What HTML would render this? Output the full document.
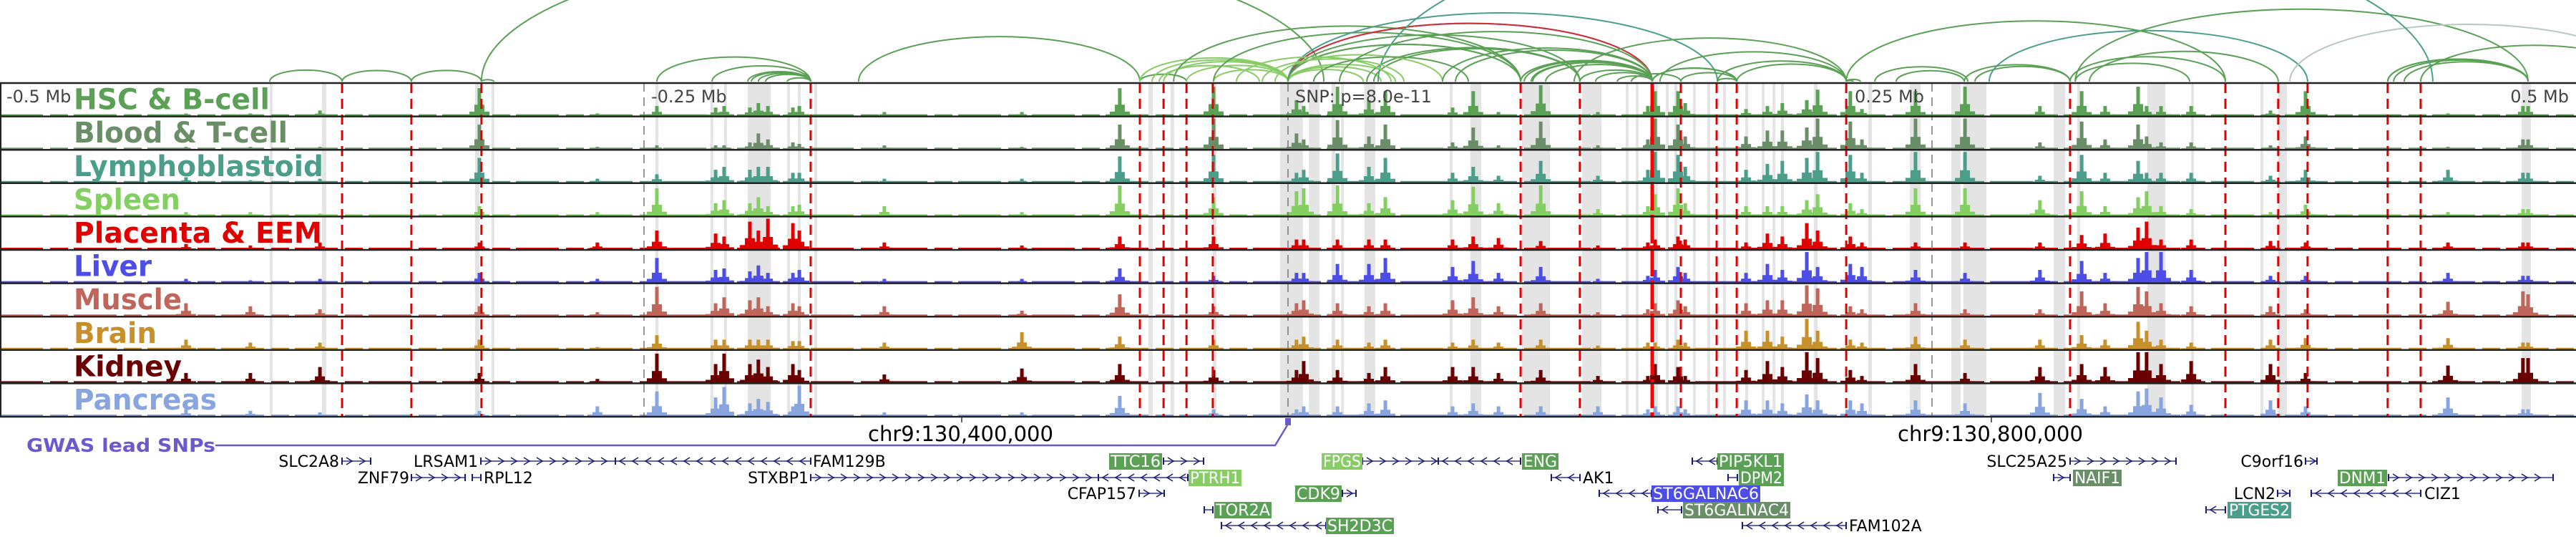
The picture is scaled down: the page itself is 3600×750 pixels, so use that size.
<!DOCTYPE html>
<html><head><meta charset="utf-8"><style>
html,body{margin:0;padding:0;background:#fff;}
svg{display:block;font-family:"DejaVu Sans","Liberation Sans",sans-serif;}
</style></head>
<body>
<svg id="chart" width="3600" height="750" viewBox="0 0 3600 750" xmlns="http://www.w3.org/2000/svg">
<defs><clipPath id="arcclip"><rect x="0" y="0" width="3600" height="115"/></clipPath></defs>
<g id="arcs" clip-path="url(#arcclip)"></g>
<g id="bands"></g>
<g id="tracks"></g>
<g id="vlines"></g>
<g id="borders"></g>
<g id="labels"></g>
<g id="axis">
  <text x="9" y="143" font-size="24" fill="#444">-0.5 Mb</text>
  <text x="910" y="143" font-size="24" fill="#444">-0.25 Mb</text>
  <text x="1810" y="143" font-size="24" fill="#444">SNP: p=8.0e-11</text>
  <text x="2689" y="143" font-size="24" fill="#444" text-anchor="end">0.25 Mb</text>
  <text x="3590" y="143" font-size="24" fill="#444" text-anchor="end">0.5 Mb</text>
  <line x1="1344" y1="582" x2="1344" y2="590" stroke="#333" stroke-width="1.5"/>
  <line x1="2783" y1="582" x2="2783" y2="590" stroke="#333" stroke-width="1.5"/>
  <text x="1213" y="616" font-size="29" fill="#000">chr9:130,400,000</text>
  <text x="2652" y="616" font-size="29" fill="#000">chr9:130,800,000</text>
</g>
<g id="gwas">
  <text x="37" y="631" font-size="26" font-weight="bold" fill="#6a5acd" textLength="264" lengthAdjust="spacingAndGlyphs">GWAS lead SNPs</text>
  <polyline points="301,622 1782,622 1799,594" fill="none" stroke="#6a5acd" stroke-width="2.5"/>
  <rect x="1796" y="584" width="8" height="10" fill="#6a5acd"/>
</g>
<g id="genes"></g>
</svg>
<script>
// ---- data (positions in kb relative to lead SNP) ----
const peakKb = [-313.9,-268.1,-245,-222.2,-218.9,-208.9,-205.6,-201.9,-192.2,-189.7,-427.8,-402.8,-375.8,-156.7,-103.3,-65.3,-28.9,3.3,6.1,19.2,31.4,37.8,63.9,71.9,81.7,98.1,120.3,139.7,142.5,151.4,154.2,177.8,186.1,191.9,201.4,205.6,218.3,222.8,243.6,262.8,291.9,308.1,317.2,330,333.3,338.9,350.6,381.4,395,450.3,479.4,481.4];
const trackNames = ["HSC & B-cell","Blood & T-cell","Lymphoblastoid","Spleen","Placenta & EEM","Liver","Muscle","Brain","Kidney","Pancreas"];
const hsc = [.9,.05,.3,.25,.3,.25,.4,.3,.25,.3,.05,.05,.15,.1,.1,.9,.95,.5,.3,.95,.5,.8,.25,.8,.1,1,.1,.3,.8,.8,.4,.2,.3,.4,.5,.85,.8,.2,.8,.95,.3,.8,.3,.95,.3,.3,.3,.15,.8,.05,.3,.3];
const blood = [.8,.05,.1,.1,.1,.2,.5,.3,.2,.15,.05,.05,.05,.1,.05,.8,1,.5,.3,.95,.4,.8,.2,.7,.1,.9,.1,.3,1,.8,.4,.4,.6,.6,.7,1,.9,.3,1,1,.2,.9,.3,.8,.4,.2,.2,.1,.4,.05,.3,.3];
const lympho = [.8,.1,.25,.4,.5,.4,.5,.5,.3,.3,.15,.05,.1,.1,.1,.85,.9,.3,.4,.95,.5,.8,.3,.5,.2,.7,.2,.4,1,.9,.5,.4,.6,.7,.8,1,.9,.3,1,1,.2,.9,.3,.7,.3,.3,.3,.2,.4,.4,.3,.3];
const spleen = [.3,.1,.9,.4,.5,.4,.6,.3,.3,.35,.1,.1,.05,.3,.1,1,.6,.8,.9,1,.4,.6,.5,.95,.4,1,.2,.3,.7,.9,.4,.3,.3,.3,.5,.7,.4,.2,.9,.9,.5,.8,.3,.6,.8,.3,.2,.1,.35,.1,.2,.2];
const placenta = [.2,.2,.6,.5,.4,.9,.6,1,.85,.6,.15,.1,.2,.2,.1,.4,.4,.3,.3,.3,.3,.3,.3,.4,.35,.25,.1,.2,.3,.4,.3,.2,.5,.4,.85,.6,.4,.2,.2,.2,.2,.45,.5,.7,.9,.3,.3,.25,.2,.2,.2,.2];
const liver = [.3,.1,.8,.4,.45,.35,.55,.3,.3,.4,.1,.05,.1,.1,.1,.45,.2,.3,.3,.6,.6,.8,.5,.7,.3,.5,.1,.2,.4,.5,.3,.3,.6,.4,1,.5,.6,.5,.4,.3,.4,.7,.3,.8,1,1,.4,.2,.2,.3,.2,.2];
const muscle = [.3,.1,.95,.4,.6,.5,.6,.3,.4,.3,.4,.3,.2,.3,.15,.7,.3,.4,.5,.4,.3,.4,.5,.6,.3,.4,.1,.2,.4,.5,.3,.4,.5,.5,1,.9,.3,.2,.4,.2,.2,.8,.4,.95,.8,.4,.3,.3,.2,.45,.8,.7];
const brain = [.3,.05,.45,.3,.3,.3,.3,.3,.25,.25,.3,.2,.2,.2,.55,.4,.3,.3,.4,.3,.2,.3,.2,.3,.2,.3,.1,.2,.2,.3,.2,.6,.6,.4,1,.6,.3,.2,.4,.3,.3,.45,.3,.9,.6,.3,.2,.3,.35,.35,.2,.2];
const kidney = [.3,.1,.95,.6,.95,.6,.75,.5,.6,.4,.3,.3,.5,.25,.45,.6,.4,.4,.7,.4,.3,.5,.5,.5,.3,.4,.2,.2,.6,.5,.2,.4,.7,.5,1,.8,.4,.2,.6,.3,.5,.6,.5,1,1,.6,.7,.6,.3,.55,.8,.8];
const pancreas = [.15,.3,.8,.6,.95,.4,.55,.45,.3,1,.2,.15,.1,.1,.1,.65,.2,.2,.3,.3,.4,.5,.3,.4,.3,.3,.3,.2,.3,.3,.2,.5,.5,.4,.7,.5,.5,.4,.5,.4,.75,.55,.3,.8,.9,.6,.35,.5,.3,.6,.2,.2];
const trackValues = [hsc,blood,lympho,spleen,placenta,liver,muscle,brain,kidney,pancreas];
const bandStartKb = [-395.3,-375,-315.6,-309.2,-245.6,-224.2,-218.9,-209.7,-194.4,-190.3,-183.9,-54.2,-45.6,-29.2,-3.1,8.1,16.9,20.6,29.7,62.8,70.8,90.8,114.2,131.1,135,142.5,146.7,150,157.2,162.8,168.9,177.5,183.9,188.1,191.4,204.2,225.3,241.4,257.5,262.2,297.2,306.4,333.6,350.6,377.5,384.4,478.9];
const bandEndKb = [-394.2,-373.3,-313.9,-308.1,-244.4,-223.1,-217.8,-200.8,-193.3,-189.2,-182.8,-52.5,-44.2,-27.8,5.8,12.2,18.3,21.7,33.9,63.9,75,101.7,121.7,132.2,136.1,143.6,147.8,151.1,158.3,163.9,170,178.6,185,189.2,192.5,205.6,226.7,245.6,261.1,271.1,301.7,307.5,340.6,351.7,378.6,387.8,482.5];
const snpLineKb = [-367.2,-340.3,-313.1,-185.3,-57.5,-48.3,-39.4,-29.2,90.3,113.3,152.5,166.4,174.2,216.7,303.6,363.9,384.4,395.8,426.9,439.7];
const leadSnpKb = [141.4];
const arcStartKb = [-395.3,-367.2,-340.3,-313.1,-313.1,-245,-223.6,-209.7,-208.3,-205.6,-202.8,-194.4,-166.7,-57.5,-57.5,-48.3,-39.4,-52.8,-50,-28.9,-28.9,-44.4,0,0,0,0,0,0,0,0,0,30.6,33.3,90.3,90.3,91.7,94.4,100,113.3,119.4,127.8,133.3,141.4,141.4,144.4,141.4,152.5,166.7,166.7,174.2,111.1,216.7,219.4,222.2,227.8,236.1,262.5,266.7,216.7,303.6,305.6,311.1,363.9,272.2,305.6,426.9,429.2,433.3,439.7,481.4,388.9,444.4,-20,-10,-5,10,20,60,65,95,97];
const arcEndKb = [-367.2,-340.3,-313.1,-308.3,13.9,-185.3,-185.3,-185.3,-185.3,-185.3,-185.3,-185.3,-57.5,-39.4,0,0,0,0,-11.1,0,90.3,90.3,90.3,113.3,141.4,141.4,166.7,29.2,36.1,41.7,90.3,113.3,113.3,141.4,141.4,141.4,141.4,141.4,141.4,141.4,141.4,152.5,174.2,174.2,216.7,174.2,174.2,216.7,174.2,216.7,216.7,216.7,216.7,216.7,263.9,262.5,303.6,303.6,363.9,363.9,350,384.4,363.9,395.8,481.4,481.4,481.4,481.4,527.8,426.9,527.8,35,40,45,60,70,141.4,141.4,141.4,141.4];
const arcColorKey = ["g","g","g","g","g","g","g","g","g","g","g","g","g","g","l","l","l","l","l","l","g","g","g","g","b","r","t","l","l","l","g","g","g","g","g","g","g","g","g","g","g","g","g","g","g","g","g","g","g","g","g","g","g","g","g","g","g","g","g","g","g","g","g","t","g","g","g","g","g","g","s","t","l","l","l","g","g","g","g","g","g"];

// ---- scales ----
const X0 = 0, X1 = 3600, KB0 = -500, KB1 = 500;
function xScale(kb){ return X0 + (kb - KB0) / (KB1 - KB0) * (X1 - X0); }
const TOP = 116, BOTTOM = 582, NT = 10, TH = (BOTTOM - TOP) / NT;
function trackBottom(i){ return TOP + (i + 1) * TH; }
function yScale(i, v){ return trackBottom(i) - 2 - v * (TH - 5); }
const colors = ["#5aa155","#6a8f68","#4a9e8a","#84cf62","#e00000","#4d4de8","#c0655a","#c8902a","#6b0000","#88a5e0"];
const arcColors = {g:"#5aa155", l:"#88cc66", b:"#4d4de8", r:"#d03030", t:"#4a9e8a", s:"#b8c8c0"};
const NS = "http://www.w3.org/2000/svg";
function mk(tag, attrs, parent){ const e = document.createElementNS(NS, tag); for (const k in attrs) e.setAttribute(k, attrs[k]); parent.appendChild(e); return e; }

// arcs
const gArcs = document.getElementById("arcs");
const nArcs = Math.min(arcStartKb.length, arcEndKb.length);
for (let i = 0; i < nArcs; i++){
  const a = xScale(arcStartKb[i]), b = xScale(arcEndKb[i]);
  const x1 = Math.min(a, b), x2 = Math.max(a, b);
  const rx = (x2 - x1) / 2, ry = 0.16 * (x2 - x1);
  const col = arcColors[arcColorKey[i]] || "#5aa155";
  const p = mk("path", {d:`M${x1},114 A${rx},${ry} 0 0 1 ${x2},114`, fill:"none", stroke:col, "stroke-width": 2}, gArcs);
  
  
}

// bands
const gBands = document.getElementById("bands");
for (let i = 0; i < bandStartKb.length; i++){
  const x1 = xScale(bandStartKb[i]), x2 = xScale(bandEndKb[i]);
  const r = mk("rect", {x:x1, y:TOP, width:Math.max(3, x2 - x1), height:BOTTOM - TOP, fill:"#e4e4e4"}, gBands);
  
  
}

// tracks
const gTracks = document.getElementById("tracks");
for (let t = 0; t < NT; t++){
  const g = mk("g", {}, gTracks);
  
  
  const yb = trackBottom(t) - 1;
  const base = mk("line", {x1:0, y1:yb - 1, x2:3600, y2:yb - 1, stroke:colors[t], "stroke-width":2, "stroke-dasharray":"60 10 25 8"}, g);
  
  
  const vals = trackValues[t];
  for (let i = 0; i < peakKb.length; i++){
    const x = xScale(peakKb[i]), y = yScale(t, vals[i]), h = yb - y;
    const sw = mk("rect", {x:x - 14, y:yb - h * 0.15, width:28, height:h * 0.15, fill:colors[t]}, g);
    
    
    const sh = mk("rect", {x:x - 7, y:yb - h * 0.4, width:14, height:h * 0.4, fill:colors[t]}, g);
    
    
    const b = mk("rect", {x:x - 2.5, y:y, width:5, height:h, fill:colors[t]}, g);
    
    
  }
}

// snp lines
const gV = document.getElementById("vlines");
[-250, 0, 250].forEach(kb => {
  const l = mk("line", {x1:xScale(kb), y1:TOP, x2:xScale(kb), y2:BOTTOM, stroke:"#777", "stroke-width":1.5, "stroke-dasharray":"12 8"}, gV);
  
  
});
snpLineKb.forEach(kb => {
  const l = mk("line", {x1:xScale(kb), y1:TOP, x2:xScale(kb), y2:BOTTOM, stroke:"#e00000", "stroke-width":3, "stroke-dasharray":"14 8"}, gV);
  
  
});
leadSnpKb.forEach(kb => {
  const l = mk("line", {x1:xScale(kb), y1:TOP, x2:xScale(kb), y2:BOTTOM, stroke:"#ff0000", "stroke-width":5, "stroke-dasharray":"40 6"}, gV);
  
  
});

// borders
const gB = document.getElementById("borders");
for (let i = 0; i <= NT; i++){
  const y = TOP + i * TH;
  const l = mk("line", {x1:0, y1:y, x2:3600, y2:y, stroke:"#222", "stroke-width":2.5}, gB);
  
  
}
const lb = mk("line", {x1:1, y1:TOP, x2:1, y2:BOTTOM, stroke:"#222", "stroke-width":2}, gB);



// labels
const labelWidths = [274,299,349,149,347,109,151,116,151,200];
const gL = document.getElementById("labels");
for (let t = 0; t < NT; t++){
  const tx = mk("text", {x:103, y:trackBottom(t) - 10, "font-size":40, "font-weight":"bold", fill:colors[t], textLength:labelWidths[t], lengthAdjust:"spacingAndGlyphs"}, gL);
  tx.textContent = trackNames[t];
  
  
}

// genes
const rowY = [644, 667, 689, 712, 734];
const G = "#5aa155", LG = "#88cc66", GG = "#6a8f68", B = "#4d4de8", T = "#4a9e8a";
const geneLines = [
  [0,478,518,1],[0,672,860,1],[0,860,1133,-1],[0,1626,1682,1],[0,1904,2010,1],[0,2010,2125,-1],[0,2365,2400,-1],[0,2893,3041,1],[0,3222,3238,1],
  [1,575,650,1],[1,660,672,-1],[1,1133,1535,1],[1,1535,1660,-1],[1,2168,2208,-1],[1,2415,2428,-1],[1,2870,2893,1],[1,3338,3568,1],
  [2,1592,1627,1],[2,1876,1895,1],[2,2235,2308,-1],[2,3183,3200,1],[2,3230,3383,-1],
  [3,1683,1695,-1],[3,2317,2350,-1],[3,3083,3110,-1],
  [4,1707,1853,-1],[4,2435,2580,-1]
];
const geneLabels = [
  [0,474,"SLC2A8",null,"end",0],[0,668,"LRSAM1",null,"end",0],[0,1136,"FAM129B",null,"start",0],[0,1550,"TTC16",G,"start",74],[0,1847,"FPGS",LG,"start",57],[0,2127,"ENG",G,"start",51],[0,2400,"PIP5KL1",G,"start",93],[0,2889,"SLC25A25",null,"end",0],[0,3219,"C9orf16",null,"end",0],
  [1,572,"ZNF79",null,"end",0],[1,676,"RPL12",null,"start",0],[1,1130,"STXBP1",null,"end",0],[1,1661,"PTRH1",LG,"start",74],[1,2212,"AK1",null,"start",0],[1,2430,"DPM2",G,"start",63],[1,2897,"NAIF1",GG,"start",68],[1,3267,"DNM1",G,"start",69],
  [2,1588,"CFAP157",null,"end",0],[2,1810,"CDK9",G,"start",65],[2,2308,"ST6GALNAC6",B,"start",152],[2,3180,"LCN2",null,"end",0],[2,3388,"CIZ1",null,"start",0],
  [3,1697,"TOR2A",G,"start",80],[3,2352,"ST6GALNAC4",GG,"start",150],[3,3113,"PTGES2",T,"start",89],
  [4,1853,"SH2D3C",G,"start",95],[4,2584,"FAM102A",null,"start",0]
];
const gG = document.getElementById("genes");
geneLines.forEach(gl => {
  const [r, a, b, d] = gl, y = rowY[r];
  const g = mk("g", {}, gG);
  
  
  mk("line", {x1:a, y1:y, x2:b, y2:y, stroke:"#6565b0", "stroke-width":2}, g);
  mk("line", {x1:a, y1:y - 5, x2:a, y2:y + 5, stroke:"#1a1a70", "stroke-width":2}, g);
  mk("line", {x1:b, y1:y - 5, x2:b, y2:y + 5, stroke:"#1a1a70", "stroke-width":2}, g);
  for (let x = a + 10; x < b - 5; x += 18){
    mk("polyline", {points:`${x - 4 * d},${y - 5} ${x + 4 * d},${y} ${x - 4 * d},${y + 5}`, fill:"none", stroke:"#1a1a70", "stroke-width":1.5}, g);
  }
});
geneLabels.forEach(gl => {
  const [r, x, txt, col, anchor, w] = gl, y = rowY[r];
  if (col){
    const bx = mk("rect", {x:x, y:y - 11, width:w, height:23, fill:col}, gG);
    
    
    const t = mk("text", {x:x + 2, y:y + 8, "font-size":22, fill:"#fff", textLength:w - 4, lengthAdjust:"spacingAndGlyphs"}, gG);
    t.textContent = txt;
    
    
  } else {
    const t = mk("text", {x:x, y:y + 8, "font-size":22, fill:"#000", "text-anchor":anchor}, gG);
    t.textContent = txt;
    
    
  }
});
</script>
</body></html>
